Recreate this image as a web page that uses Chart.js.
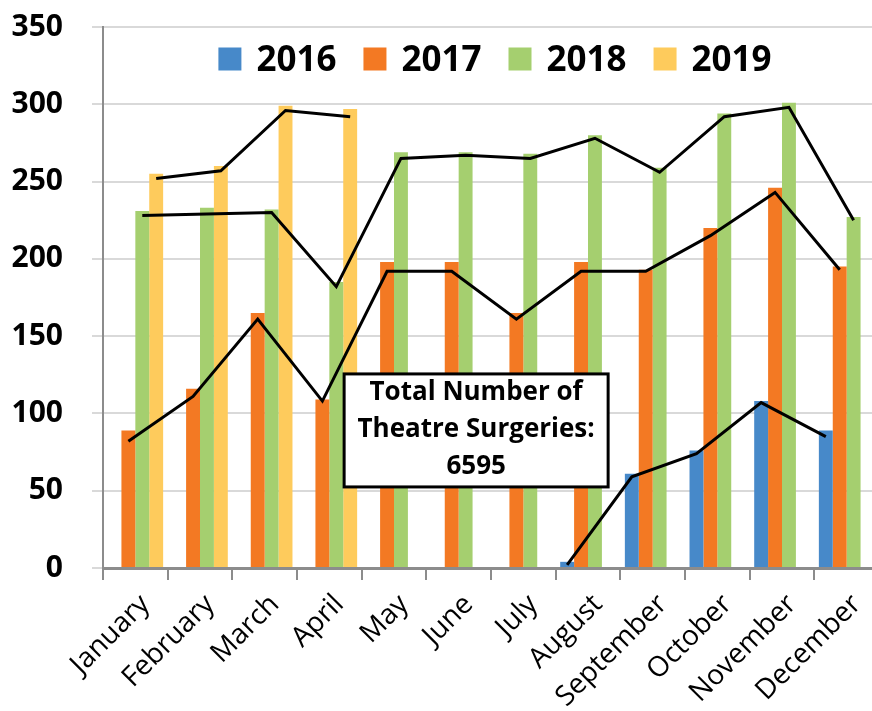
<!DOCTYPE html>
<html>
<head>
<meta charset="utf-8">
<title>Theatre Surgeries</title>
<script src="https://cdn.jsdelivr.net/npm/chart.js@4"></script>
<style>
  html, body { margin: 0; padding: 0; overflow: hidden; background: #fff; }
  canvas { display: block; }
</style>
</head>
<body>
<canvas id="surgeryChart" width="880" height="711"></canvas>
<script>
// months and yearly counts
const months = ['January', 'February', 'March', 'April', 'May', 'June', 'July',
                'August', 'September', 'October', 'November', 'December'];
const years = ['2016', '2017', '2018', '2019'];
const y2016 = [null, null, null, null, null, null, null, 4, 61, 76, 108, 89];
const y2017 = [89, 116, 165, 109, 198, 198, 165, 198, 193, 220, 246, 195];
const y2018 = [231, 233, 232, 185, 269, 269, 268, 280, 259, 294, 301, 227];
const y2019 = [255, 260, 299, 297, null, null, null, null, null, null, null, null];

// black trend lines drawn over each year's bars
const line2016 = [null, null, null, null, null, null, null, 2, 59, 74, 107, 85];
const line2017 = [82, 111, 161, 108, 192, 192, 161, 192, 192, 215, 243, 193];
const line2018 = [228, 229, 230, 182, 265, 267, 265, 278, 256, 292, 298, 225];
const line2019 = [252, 257, 296, 292, null, null, null, null, null, null, null, null];

const yTicks = [0, 50, 100, 150, 200, 250, 300, 350];
const totalLabel = ['Total Number of', 'Theatre Surgeries:', '6595'];

const colors = ['#4789c9', '#f37923', '#a5cf6f', '#fecb5c'];
const barSeries = [y2016, y2017, y2018, y2019];
const lineSeries = [line2016, line2017, line2018, line2019];

const datasets = barSeries.map((vals, k) => ({
    label: years[k],
    data: vals,
    backgroundColor: colors[k],
    borderWidth: 0,
    barPercentage: 1.0,
    categoryPercentage: 0.86
}));

// trend lines: x from each bar element, y from the value scale
const trendLines = {
    id: 'trendLines',
    afterDatasetsDraw(chart) {
        const ctx = chart.ctx;
        const yScale = chart.scales.y;
        ctx.save();
        ctx.strokeStyle = '#000';
        ctx.lineWidth = 3;
        lineSeries.forEach((vals, k) => {
            const bars = chart.getDatasetMeta(k).data;
            ctx.beginPath();
            let started = false;
            vals.forEach((v, i) => {
                if (v === null) return;
                const px = bars[i].x;
                const py = yScale.getPixelForValue(v);
                if (!started) { ctx.moveTo(px, py); started = true; }
                else ctx.lineTo(px, py);
            });
            ctx.stroke();
        });
        ctx.restore();
    }
};

// legend inside the plot, above the bars
const topLegend = {
    id: 'topLegend',
    afterDraw(chart) {
        const ctx = chart.ctx;
        const area = chart.chartArea;
        const box = 23, gap = 15, itemGap = 27;
        ctx.save();
        ctx.font = 'bold 35px "Open Sans"';
        const items = chart.data.datasets;
        const widths = items.map(d => ctx.measureText(d.label).width);
        let total = 0;
        widths.forEach((w, i) => { total += box + gap + w + (i < widths.length - 1 ? itemGap : 0); });
        let x = (area.left + area.right) / 2 - total / 2 + 4;
        const cy = area.top + 32;
        items.forEach((d, i) => {
            ctx.fillStyle = d.backgroundColor;
            ctx.fillRect(x, cy - box / 2, box, box);
            ctx.fillStyle = '#000';
            ctx.textBaseline = 'alphabetic';
            ctx.textAlign = 'left';
            ctx.fillText(d.label, x + box + gap, cy + 12);
            x += box + gap + widths[i] + itemGap;
        });
        ctx.restore();
    }
};

// boxed total, placed through the scales
const totalBox = {
    id: 'totalBox',
    afterDraw(chart, args, opts) {
        const ctx = chart.ctx;
        const cx = chart.scales.x.getPixelForValue(opts.xValue);
        const cy = chart.scales.y.getPixelForValue(opts.yValue);
        const w = opts.width, h = opts.height;
        ctx.save();
        ctx.fillStyle = '#fff';
        ctx.fillRect(cx - w / 2, cy - h / 2, w, h);
        ctx.lineWidth = 3;
        ctx.strokeStyle = '#000';
        ctx.strokeRect(cx - w / 2, cy - h / 2, w, h);
        ctx.fillStyle = '#000';
        ctx.font = 'bold 26px "Open Sans"';
        ctx.textAlign = 'center';
        ctx.textBaseline = 'alphabetic';
        opts.lines.forEach((t, i) => {
            ctx.fillText(t, cx, cy + (i - 1) * 37 + 7);
        });
        ctx.restore();
    }
};

const ctx = document.getElementById('surgeryChart').getContext('2d');
new Chart(ctx, {
    type: 'bar',
    data: {
        labels: months,
        datasets: datasets
    },
    options: {
        responsive: false,
        animation: false,
        devicePixelRatio: 1,
        layout: {
            padding: { top: 27, right: 1, left: 0, bottom: 0 }
        },
        plugins: {
            legend: { display: false },
            tooltip: { enabled: false },
            totalBox: {
                xValue: 5.27,
                yValue: 89,
                width: 264,
                height: 113,
                lines: totalLabel
            }
        },
        scales: {
            x: {
                offset: true,
                grid: {
                    offset: true,
                    drawOnChartArea: false,
                    drawTicks: true,
                    tickLength: 12,
                    color: '#8c8c8c',
                    lineWidth: 2
                },
                border: { color: '#8c8c8c', width: 3 },
                ticks: {
                    color: '#000',
                    font: { family: 'Open Sans', size: 28 },
                    minRotation: 45,
                    maxRotation: 45,
                    padding: 8,
                    labelOffset: 10,
                    autoSkip: false
                },
                afterFit(scale) { scale.height = 143; }
            },
            y: {
                min: 0,
                max: 350,
                afterBuildTicks(scale) {
                    scale.ticks = yTicks.map(v => ({ value: v }));
                },
                grid: {
                    color: '#d9d9d9',
                    lineWidth: 2,
                    tickLength: 11
                },
                border: { color: '#8c8c8c', width: 2 },
                ticks: {
                    color: '#000',
                    font: { family: 'Open Sans', size: 30, weight: 'bold' },
                    padding: 29
                },
                afterFit(scale) {
                    scale.width = 103;
                    scale.paddingTop = 0;
                    scale.paddingBottom = 0;
                }
            }
        }
    },
    plugins: [trendLines, topLegend, totalBox]
});
</script>
</body>
</html>
